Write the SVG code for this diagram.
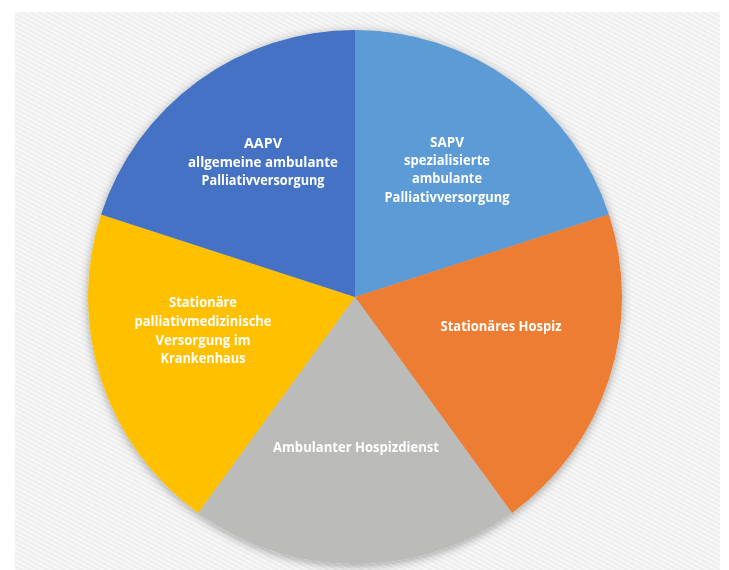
<svg xmlns="http://www.w3.org/2000/svg" width="729" height="570" viewBox="0 0 729 570">
  <defs>
    <pattern id="weave" width="4" height="4" patternUnits="userSpaceOnUse" patternTransform="rotate(28)">
      <rect width="4" height="4" fill="#f7f7f7"/>
      <rect width="4" height="1.6" fill="#ececec"/>
    </pattern>
    <filter id="soft" x="-10%" y="-10%" width="120%" height="120%">
      <feDropShadow dx="0" dy="2" stdDeviation="5" flood-color="#000" flood-opacity="0.35"/>
    </filter>
    <style>
      .lbl { font-family: "Open Sans", Lato, "Liberation Sans", sans-serif; font-weight: bold; font-size: 14px; fill: #ffffff; text-anchor: middle; }
    </style>
  </defs>

  <rect x="0" y="0" width="729" height="570" fill="#ffffff"/>
  <rect x="15" y="12" width="705" height="558" fill="url(#weave)"/>

  <!-- pie: centre (355,297), radius 267, five equal sectors -->
  <g id="pie" filter="url(#soft)">
    <g id="sapv">
      <path d="M355 297 L355 30 A267 267 0 0 1 608.93 214.49 Z" fill="#5b9bd5"/>
      <text class="lbl" x="447" y="147" textLength="34" lengthAdjust="spacingAndGlyphs">SAPV</text>
      <text class="lbl" x="447" y="165" textLength="86" lengthAdjust="spacingAndGlyphs">spezialisierte</text>
      <text class="lbl" x="447" y="183" textLength="70" lengthAdjust="spacingAndGlyphs">ambulante</text>
      <text class="lbl" x="447" y="202" textLength="125" lengthAdjust="spacingAndGlyphs">Palliativversorgung</text>
    </g>
    <g id="hospiz">
      <path d="M355 297 L608.93 214.49 A267 267 0 0 1 511.94 513.01 Z" fill="#ed7d31"/>
      <text class="lbl" x="501" y="331" textLength="121" lengthAdjust="spacingAndGlyphs">Stationäres Hospiz</text>
    </g>
    <g id="hospizdienst">
      <path d="M355 297 L511.94 513.01 A267 267 0 0 1 198.06 513.01 Z" fill="#bbbbb9"/>
      <text class="lbl" x="356" y="452" textLength="166" lengthAdjust="spacingAndGlyphs">Ambulanter Hospizdienst</text>
    </g>
    <g id="krankenhaus">
      <path d="M355 297 L198.06 513.01 A267 267 0 0 1 101.07 214.49 Z" fill="#ffc000"/>
      <text class="lbl" x="203" y="307" textLength="68" lengthAdjust="spacingAndGlyphs">Stationäre</text>
      <text class="lbl" x="203" y="326" textLength="137" lengthAdjust="spacingAndGlyphs">palliativmedizinische</text>
      <text class="lbl" x="203" y="345" textLength="95" lengthAdjust="spacingAndGlyphs">Versorgung im</text>
      <text class="lbl" x="203" y="363" textLength="85" lengthAdjust="spacingAndGlyphs">Krankenhaus</text>
    </g>
    <g id="aapv">
      <path d="M355 297 L101.07 214.49 A267 267 0 0 1 355 30 Z" fill="#4472c4"/>
      <text class="lbl" x="263" y="148" textLength="38" lengthAdjust="spacingAndGlyphs">AAPV</text>
      <text class="lbl" x="263" y="167" textLength="150" lengthAdjust="spacingAndGlyphs">allgemeine  ambulante</text>
      <text class="lbl" x="263" y="185" textLength="123" lengthAdjust="spacingAndGlyphs">Palliativversorgung</text>
    </g>
  </g>

  <g id="connectors"/>
</svg>
